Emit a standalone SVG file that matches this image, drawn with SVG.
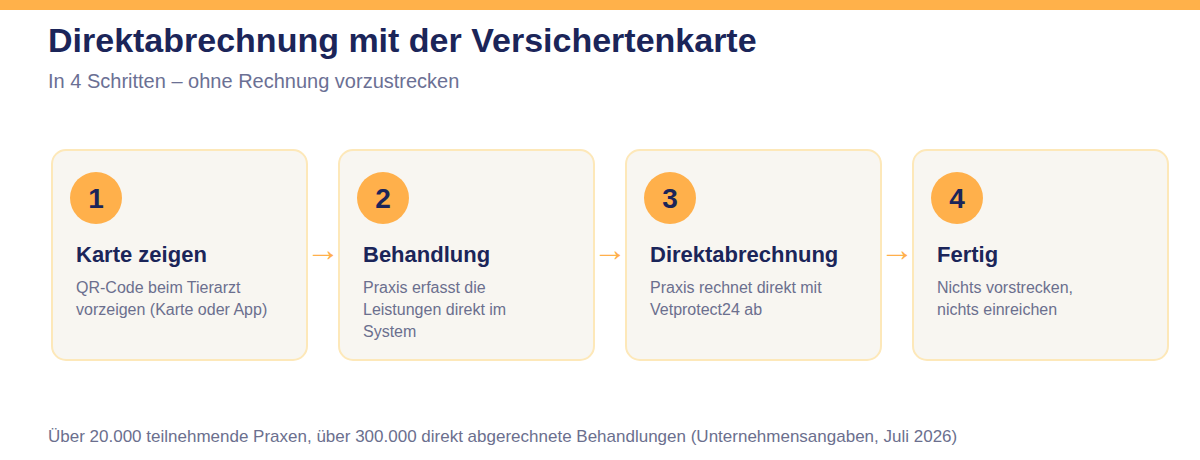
<svg xmlns="http://www.w3.org/2000/svg" width="1200" height="460" viewBox="0 0 1200 460">
<style>
.card{fill:#F8F6F1;stroke:#FDE8B9;stroke-width:2}
.circ{fill:#FFB04B}
.num{font-family:"Liberation Sans",Arial,sans-serif;font-weight:bold;font-size:28px;fill:#1B2559;text-anchor:middle}
.ttl{font-family:"Liberation Sans",Arial,sans-serif;font-weight:bold;font-size:22px;fill:#1B2559}
.desc{font-family:"Liberation Sans",Arial,sans-serif;font-size:16px;fill:#6B6F8E}
.arr{font-family:"Liberation Sans",Arial,sans-serif;font-size:34px;fill:#FFB04B;text-anchor:middle}
</style>
<rect x="0" y="0" width="1200" height="460" fill="#FFFFFF"/>
<rect x="0" y="0" width="1200" height="10" fill="#FFB14A"/>
<text x="48" y="52" font-family="Liberation Sans,Arial,sans-serif" font-weight="bold" font-size="34" fill="#1B2559">Direktabrechnung mit der Versichertenkarte</text>
<text x="48" y="88" font-family="Liberation Sans,Arial,sans-serif" font-size="20" fill="#6B7094">In 4 Schritten – ohne Rechnung vorzustrecken</text>
<g id="connectors">
<text class="arr" x="323" y="261">→</text>
<text class="arr" x="610" y="261">→</text>
<text class="arr" x="897" y="261">→</text>
</g>
<g id="step1">
<rect class="card" x="52" y="150" width="255" height="210" rx="14"/>
<circle class="circ" cx="96" cy="198" r="26"/>
<text class="num" x="96" y="208">1</text>
<text class="ttl" x="76" y="262">Karte zeigen</text>
<text class="desc" x="76" y="293">QR-Code beim Tierarzt</text>
<text class="desc" x="76" y="315">vorzeigen (Karte oder App)</text>
</g>
<g id="step2">
<rect class="card" x="339" y="150" width="255" height="210" rx="14"/>
<circle class="circ" cx="383" cy="198" r="26"/>
<text class="num" x="383" y="208">2</text>
<text class="ttl" x="363" y="262">Behandlung</text>
<text class="desc" x="363" y="293">Praxis erfasst die</text>
<text class="desc" x="363" y="315">Leistungen direkt im</text>
<text class="desc" x="363" y="337">System</text>
</g>
<g id="step3">
<rect class="card" x="626" y="150" width="255" height="210" rx="14"/>
<circle class="circ" cx="670" cy="198" r="26"/>
<text class="num" x="670" y="208">3</text>
<text class="ttl" x="650" y="262">Direktabrechnung</text>
<text class="desc" x="650" y="293">Praxis rechnet direkt mit</text>
<text class="desc" x="650" y="315">Vetprotect24 ab</text>
</g>
<g id="step4">
<rect class="card" x="913" y="150" width="255" height="210" rx="14"/>
<circle class="circ" cx="957" cy="198" r="26"/>
<text class="num" x="957" y="208">4</text>
<text class="ttl" x="937" y="262">Fertig</text>
<text class="desc" x="937" y="293">Nichts vorstrecken,</text>
<text class="desc" x="937" y="315">nichts einreichen</text>
</g>
<text x="48" y="442" font-family="Liberation Sans,Arial,sans-serif" font-size="17" fill="#6B6F8E">Über 20.000 teilnehmende Praxen, über 300.000 direkt abgerechnete Behandlungen (Unternehmensangaben, Juli 2026)</text>
</svg>
